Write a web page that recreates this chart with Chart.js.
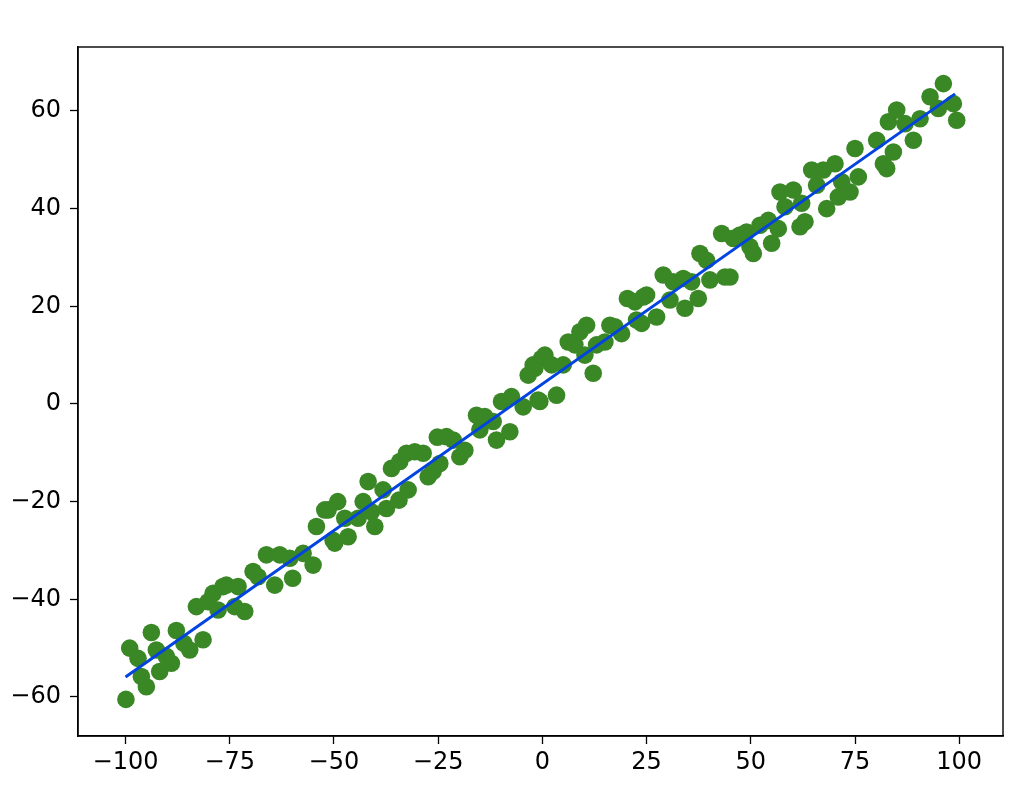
<!DOCTYPE html>
<html>
<head>
<meta charset="utf-8">
<script src="https://cdn.jsdelivr.net/npm/chart.js@4/dist/chart.umd.min.js"></script>
<style>
  html, body { margin: 0; padding: 0; background: #fff; }
  #wrap { width: 1024px; height: 798px; }
</style>
</head>
<body>
<div id="wrap"><canvas id="c" width="1024" height="798"></canvas></div>
<script>
/* values */
const pointX = [
  -99.9, -99, -97, -96.2, -95, -93.8, -92.6, -91.8, -90.2, -89, -87.8, -86, -84.6, -83, -81.4, -80.2, -79, -77.8, -76.6,
  -75.8, -73.8, -73, -71.4, -69.4, -68.2, -66.2, -64.2, -63, -60.6, -59.9, -57.4, -55, -54.2, -52.2, -50.2,
  -51.4, -49.8, -49.1, -47.4, -46.6, -44.2, -43, -41.8, -41, -40.2, -38.2, -37.4, -36.2, -34.4, -34.2, -32.6, -32.2,
  -30.6, -28.6, -27.4, -26.2, -25.2, -24.6, -23, -21.4, -19.8, -18.6, -15.8, -15, -13.8, -11.8, -11, -9.8, -7.8,
  -7.4, -4.6, -3.4, -2.2, -1, -0.2, -0.6, -1.8, 0.6, 2.2, 3.4, 5, 6.2, 7.8, 9, 10.2, 10.6, 12.2, 13, 15, 16.2,
  17.4, 19, 20.4, 22.2, 22.6, 24.2, 23.8, 25, 27.4, 29, 30.6, 31.4, 33.8, 34.2, 35.8, 37.4, 37.8, 39.4, 40.2,
  43, 43.8, 45, 45.8, 47.4, 49, 49.8, 50.6, 52.2, 54.2, 55, 56.6, 57, 58.2, 60.2, 61.8, 62.2, 63, 64.6, 65.8,
  67.4, 68.2, 70.2, 71, 71.8, 73.8, 75, 75.8, 80.2, 81.8, 82.6, 83, 84.2, 85, 87, 89, 90.6, 93, 95, 96.2, 98.6, 99.4
];
const pointY = [
  -60.5, -50.0, -52.1, -55.8, -57.9, -46.8, -50.4, -54.8, -51.7, -53.1, -46.4, -49.0, -50.4, -41.5, -48.3, -40.5, -38.8, -42.2, -37.4,
  -37.1, -41.5, -37.4, -42.5, -34.3, -35.4, -30.9, -37.1, -30.9, -31.6, -35.7, -30.6, -33.0, -25.1, -21.7, -27.9,
  -21.7, -28.5, -20.0, -23.4, -27.2, -23.4, -20.0, -15.9, -22.1, -25.1, -17.6, -21.4, -13.2, -19.7, -11.8, -10.1, -17.6,
  -9.8, -10.1, -14.9, -13.8, -6.8, -12.2, -6.7, -7.4, -10.8, -9.5, -2.3, -5.3, -2.6, -3.6, -7.4, 0.5, -5.7,
  1.5, -0.6, 5.9, 8.0, 0.8, 9.3, 0.5, 7.3, 10.0, 8.0, 1.8, 8.0, 12.7, 12.1, 14.8, 10.0, 16.1, 6.3, 12.1, 12.7, 16.1,
  15.8, 14.4, 21.6, 20.9, 17.2, 21.9, 16.5, 22.3, 17.8, 26.4, 21.3, 25.0, 25.7, 19.6, 25.0, 21.6, 30.8, 29.4, 25.4,
  34.9, 26.0, 26.0, 33.9, 34.6, 35.2, 32.2, 30.8, 36.6, 37.6, 32.9, 35.9, 43.4, 40.4, 43.8, 36.3, 41.1, 37.3, 47.9, 44.8,
  47.9, 40.0, 49.2, 42.4, 45.5, 43.4, 52.3, 46.5, 54.0, 49.2, 48.2, 57.8, 51.6, 60.2, 57.4, 54.0, 58.4, 62.9, 60.5, 65.6, 61.5, 58.1
];
const lineX = [-100, 99];
const lineY = [-55.9, 63.5];
const xTicks = [-100, -75, -50, -25, 0, 25, 50, 75, 100];
const yTicks = [-60, -40, -20, 0, 20, 40, 60];

const minus = v => String(v).replace('-', '\u2212');
const tickFont = { family: "'DejaVu Sans', sans-serif", size: 24 };

const frame = {
  id: 'frame',
  afterDraw(chart) {
    const a = chart.chartArea, ctx = chart.ctx;
    ctx.save();
    ctx.strokeStyle = '#000';
    ctx.lineWidth = 1.4;
    ctx.strokeRect(a.left, a.top, a.right - a.left, a.bottom - a.top);
    ctx.restore();
  }
};

new Chart(document.getElementById('c'), {
  type: 'scatter',
  data: {
    datasets: [
      {
        type: 'line',
        data: lineX.map((x, i) => ({ x: x, y: lineY[i] })),
        borderColor: '#0343df',
        borderWidth: 3,
        pointRadius: 0,
        fill: false,
        order: 0
      },
      {
        data: pointX.map((x, i) => ({ x: x, y: pointY[i] })),
        backgroundColor: '#3a8726',
        borderWidth: 0,
        pointRadius: 8.8,
        pointHoverRadius: 8.8,
        order: 1
      }
    ]
  },
  options: {
    responsive: false,
    animation: false,
    events: [],
    layout: { padding: { top: 47, right: 21, left: 0, bottom: 0 } },
    plugins: { legend: { display: false }, tooltip: { enabled: false } },
    scales: {
      x: {
        type: 'linear',
        min: -111.4, max: 110.5,
        afterBuildTicks: s => { s.ticks = xTicks.map(v => ({ value: v })); },
        afterFit: s => { s.height = 62; },
        grid: { drawOnChartArea: false, tickLength: 8, tickColor: '#000', tickWidth: 1.3 },
        border: { color: '#000', width: 1.4 },
        ticks: { color: '#000', font: tickFont, padding: 4, maxRotation: 0, autoSkip: false, callback: minus }
      },
      y: {
        min: -68, max: 73.1,
        afterBuildTicks: s => { s.ticks = yTicks.map(v => ({ value: v })); },
        afterFit: s => { s.width = 78; },
        grid: { drawOnChartArea: false, tickLength: 8, tickColor: '#000', tickWidth: 1.3 },
        border: { color: '#000', width: 1.4 },
        ticks: { color: '#000', font: tickFont, padding: 9, autoSkip: false, callback: minus }
      }
    }
  },
  plugins: [frame]
});
</script>
</body>
</html>
